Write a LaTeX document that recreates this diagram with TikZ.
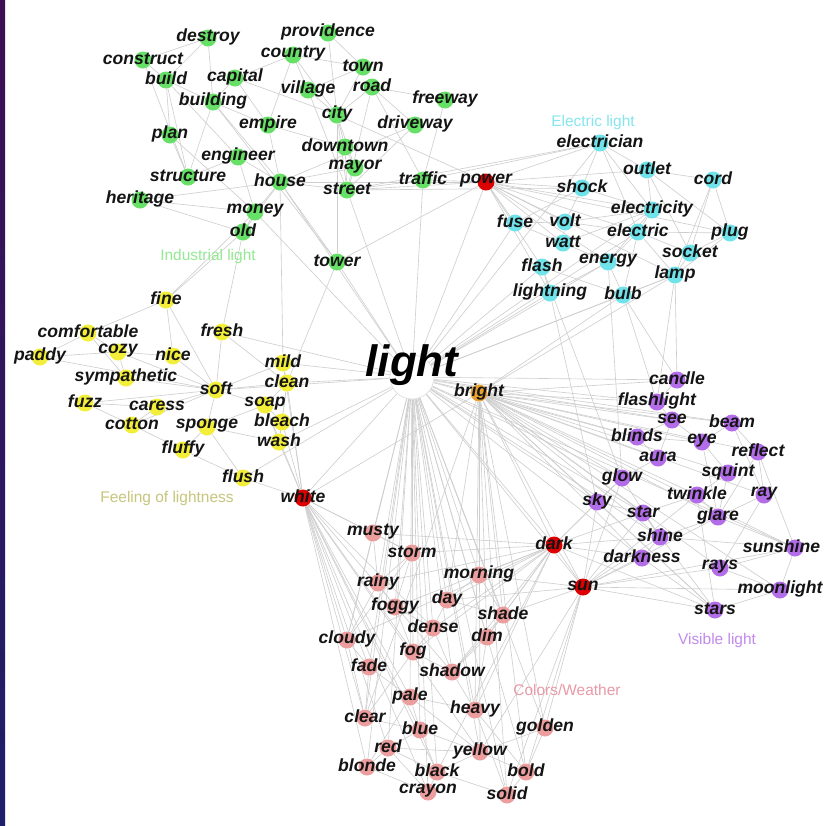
\documentclass[tikz,border=0pt]{standalone}
\usepackage{fontspec}
\setmainfont{Liberation Sans}
\usepackage{tikz}
\usetikzlibrary{positioning, calc, backgrounds}

\definecolor{grn}{HTML}{66E066}
\definecolor{cyn}{HTML}{70E2EA}
\definecolor{ylw}{HTML}{F2EE3A}
\definecolor{prp}{HTML}{B36DE8}
\definecolor{pnk}{HTML}{EC9E9E}
\definecolor{hub}{HTML}{DD0000}
\definecolor{org}{HTML}{E8A030}
\definecolor{edgegray}{HTML}{CECECE}
\definecolor{stripTop}{HTML}{3E0F52}
\definecolor{stripBot}{HTML}{1F1E6A}

% word lists: name/x/y in pixels
\def\greenwords{destroy/208/38, providence/328/33, construct/143/60, country/293/55,
  town/363/67, build/166/80, capital/235/78, road/372/87, village/308/90,
  building/213/102, freeway/445/100, city/337/115, empire/268/125, driveway/415/125,
  plan/170/135, downtown/345/147, engineer/238/157, mayor/355/168, structure/188/177,
  house/280/182, street/347/190, traffic/423/180, heritage/140/200, money/255/212,
  old/243/232, tower/337/262}
\def\cyanwords{electrician/600/143, outlet/647/170, cord/713/180, shock/582/188,
  electricity/652/210, fuse/515/223, volt/565/222, electric/638/232, plug/730/233,
  watt/563/243, socket/690/253, energy/608/262, flash/542/267, lamp/675/275,
  lightning/550/293, bulb/623/295}
\def\yellowwords{fine/166/300, comfortable/88/333, fresh/222/332, paddy/40/357,
  cozy/118/352, nice/173/356, mild/283/363, clean/287/383, sympathetic/126/378,
  soft/216/390, fuzz/85/403, caress/157/407, soap/265/405, cotton/132/425,
  sponge/207/427, bleach/282/422, wash/279/442, fluffy/183/450, flush/243/478}
\def\purplewords{candle/677/380, flashlight/657/402, see/672/420, beam/732/423,
  blinds/637/437, eye/702/442, reflect/758/452, aura/658/458, squint/728/473,
  glow/622/478, twinkle/697/495, ray/764/495, sky/597/502, star/643/513,
  glare/718/517, shine/660/537, darkness/642/558, rays/720/568,
  moonlight/780/590, stars/715/610}
\def\pinkwords{musty/373/533, storm/412/553, morning/479/575, rainy/378/583,
  day/447/600, foggy/395/607, shade/503/615, dense/433/628, cloudy/347/640,
  dim/487/637, fog/413/652, fade/369/667, shadow/452/672, pale/410/697,
  heavy/475/710, clear/365/718, blue/420/730, golden/545/728, red/388/748,
  yellow/480/752, blonde/367/767, black/437/772, bold/526/772, crayon/428/792,
  solid/507/795}
\def\hubwords{power/486/182, white/303/498, dark/554/545, sun/583/587}

\begin{document}
\begin{tikzpicture}[x=0.02cm, y=-0.02cm,
  dot/.style={circle, fill=#1, minimum size=0.34cm, inner sep=0pt},
  word/.style={font=\bfseries\itshape\fontsize{10}{12}\selectfont, text=black!92,
    inner sep=0pt, yshift=0.8pt},
  link/.style={draw=edgegray, line width=0.35pt},
  group/.style={font=\fontsize{8.8}{10}\selectfont, text=#1}]
\useasboundingbox (0,0) rectangle (825,826);

% Word dots
\foreach \n/\x/\y in \greenwords {\node[dot=grn] (\n) at (\x,\y) {};}
\foreach \n/\x/\y in \cyanwords {\node[dot=cyn] (\n) at (\x,\y) {};}
\foreach \n/\x/\y in \yellowwords {\node[dot=ylw] (\n) at (\x,\y) {};}
\foreach \n/\x/\y in \purplewords {\node[dot=prp] (\n) at (\x,\y) {};}
\foreach \n/\x/\y in \pinkwords {\node[dot=pnk] (\n) at (\x,\y) {};}
\foreach \n/\x/\y in \hubwords {\node[dot=hub] (\n) at (\x,\y) {};}
\node[dot=prp] (sunshine) at (795,548) {};
\node[dot=org] (bright) at (479,393) {};
\node[circle, fill=white, draw=black!12, minimum size=0.88cm] (light) at (412,377) {};

\begin{pgfonlayer}{background}
\fill[white] (0,0) rectangle (825,826);
\shade[top color=stripTop, bottom color=stripBot] (0,0) rectangle (5,826);

% Industrial light
\foreach \a/\b in {destroy/construct, destroy/build, destroy/building, construct/build,
  build/building, build/plan, build/structure, build/engineer, capital/country,
  capital/city, capital/empire, capital/building, country/village, country/town,
  country/city, providence/city, providence/town, town/village, town/city,
  road/street, road/freeway, road/driveway, road/traffic, road/city, city/downtown,
  city/mayor, city/street, city/village, downtown/street, downtown/mayor,
  downtown/empire, freeway/traffic, driveway/street, driveway/house, building/house,
  building/structure, engineer/structure, engineer/house, engineer/money,
  plan/structure, plan/money, heritage/old, heritage/money, heritage/house,
  house/money, house/old, house/street, house/tower, money/old, empire/building,
  empire/house, street/traffic, mayor/street, mayor/house, tower/city,
  tower/building, construct/structure, country/empire, village/street}
  \draw[link] (\a) -- (\b);

% Electric light
\foreach \a/\b in {electrician/electricity, electrician/electric, electrician/shock,
  electrician/outlet, outlet/electricity, outlet/plug, outlet/socket, outlet/cord,
  cord/plug, cord/socket, cord/lamp, electricity/electric, electricity/volt,
  electricity/watt, electricity/energy, electricity/shock, electric/energy,
  electric/socket, electric/plug, electric/lamp, electric/bulb, fuse/volt,
  fuse/shock, volt/watt, watt/energy, flash/lightning, flash/bulb, lightning/energy,
  energy/bulb, lamp/bulb, socket/lamp, socket/plug, lamp/plug, shock/volt,
  fuse/watt, volt/electric, electrician/traffic, electrician/street, shock/street}
  \draw[link] (\a) -- (\b);

% Feeling of lightness
\foreach \a/\b in {fine/comfortable, fine/nice, fine/soft, comfortable/cozy,
  comfortable/paddy, comfortable/sympathetic, paddy/cozy, paddy/soft, cozy/nice,
  cozy/sympathetic, cozy/soft, nice/soft, sympathetic/soft, fuzz/caress,
  fuzz/cotton, fuzz/soft, caress/soft, caress/cotton, cotton/soft, cotton/fluffy,
  sponge/soft, sponge/soap, sponge/fluffy, soft/mild, soft/clean, soft/fresh,
  soft/soap, soap/clean, soap/bleach, soap/wash, bleach/wash, bleach/clean,
  wash/clean, fluffy/flush, mild/clean, fresh/clean, sponge/flush, fine/old,
  fresh/old, money/fine, tower/clean, house/mild, sponge/wash}
  \draw[link] (\a) -- (\b);

% Visible light
\foreach \a/\b in {candle/flashlight, flashlight/see, see/eye, see/blinds,
  blinds/eye, eye/beam, eye/squint, eye/glare, beam/reflect, beam/ray,
  reflect/ray, reflect/glare, aura/glow, glow/shine, glow/sky, sky/star,
  star/twinkle, star/shine, star/stars, twinkle/glare, twinkle/stars, glare/ray,
  glare/squint, glare/sunshine, shine/sunshine, shine/darkness, rays/sunshine,
  rays/ray, moonlight/sunshine, moonlight/stars, moonlight/rays, stars/sky,
  squint/twinkle, aura/blinds, aura/see, candle/lamp, flashlight/lamp,
  flashlight/bulb, candle/bulb, glow/energy, glow/flash, sky/lightning,
  reflect/sunshine, darkness/stars, shine/glare}
  \draw[link] (\a) -- (\b);

% Colors/Weather
\foreach \a/\b in {musty/rainy, musty/cloudy, storm/rainy, storm/cloudy,
  storm/foggy, rainy/foggy, rainy/cloudy, foggy/fog, foggy/dense, dense/fog,
  dense/shadow, day/morning, day/shade, shade/dim, shade/shadow, dim/shadow,
  dim/heavy, cloudy/fade, cloudy/clear, fade/pale, fade/clear, pale/blue,
  pale/blonde, heavy/solid, heavy/bold, heavy/shadow, clear/blue, blue/red,
  blue/yellow, blue/black, red/yellow, red/black, red/blonde, yellow/golden,
  yellow/black, yellow/bold, black/crayon, crayon/blonde, crayon/red, bold/solid,
  solid/black, fog/clear, golden/bold, pale/heavy, day/dense, morning/shade,
  storm/musty, fog/shadow, pale/yellow}
  \draw[link] (\a) -- (\b);

% Hubs
\foreach \b in {bright, white, power, dark, sun, tower, house, money, street,
  traffic, mild, clean, soft, fresh, wash, flush, electrician, electric,
  electricity, energy, lamp, bulb, flash, lightning, fuse, candle, flashlight,
  glow, sky, shine, star, beam, see, sunshine, musty, storm, rainy, cloudy, fade,
  clear, pale, blue, red, blonde, black, yellow, dense, fog, foggy, day, morning,
  shade, dim, shadow, heavy, golden, bold, solid, crayon, darkness, blinds}
  \draw[link] (light) -- (\b);
\foreach \b in {candle, flashlight, see, blinds, eye, aura, glow, sky, star,
  twinkle, glare, shine, sunshine, rays, ray, reflect, beam, squint, darkness,
  stars, moonlight, sun, dark, golden, yellow, heavy, bold, solid, dim, shade,
  morning, day, clear, white, lamp, bulb}
  \draw[link] (bright) -- (\b);
\foreach \b in {wash, bleach, soap, clean, flush, mild, pale, blonde, red, black,
  blue, yellow, clear, cloudy, fade, crayon, musty, storm, fog, dense, shadow}
  \draw[link] (white) -- (\b);
\foreach \b in {storm, morning, shade, dim, shadow, darkness, sky, sun, stars,
  star, black, heavy, cloudy, rainy, foggy, musty, day, glow, shine, fog, dense}
  \draw[link] (dark) -- (\b);
\foreach \b in {sky, sunshine, shine, rays, moonlight, star, stars, glare, golden,
  yellow, day, morning, shade, bold, solid, glow, darkness, twinkle}
  \draw[link] (sun) -- (\b);
\foreach \b in {electrician, electricity, electric, energy, fuse, volt, watt,
  shock, plug, outlet, lamp, street, city, tower, traffic, house, flash, lightning}
  \draw[link] (power) -- (\b);
\end{pgfonlayer}

% Word labels
\foreach \n/\x/\y in \greenwords {\node[word] (\n-w) at (\n) {\n};}
\foreach \n/\x/\y in \cyanwords {\node[word] (\n-w) at (\n) {\n};}
\foreach \n/\x/\y in \yellowwords {\node[word] (\n-w) at (\n) {\n};}
\foreach \n/\x/\y in \purplewords {\node[word] (\n-w) at (\n) {\n};}
\foreach \n/\x/\y in \pinkwords {\node[word] (\n-w) at (\n) {\n};}
\foreach \n/\x/\y in \hubwords {\node[word] (\n-w) at (\n) {\n};}
\node[word, xshift=-0.27cm] (sunshine-w) at (sunshine) {sunshine};
\node[word] (bright-w) at (bright) {bright};
\node[word, font=\bfseries\itshape\fontsize{25}{30}\selectfont, text=black,
  yshift=6pt] (light-w) at (light) {light};

% Group names
\node[group=grn!70!white] (industrial) at (208,256) {Industrial light};
\node[group=cyn!85!white] (electriclbl) at (593,122) {Electric light};
\node[group=ylw!50!gray!80!white] (feeling) at (167,498) {Feeling of lightness};
\node[group=prp!80!white] (visible) at (717,640) {Visible light};
\node[group=pnk!70!purple!70!white] (colors) at (567,690) {Colors/Weather};
\end{tikzpicture}
\end{document}
